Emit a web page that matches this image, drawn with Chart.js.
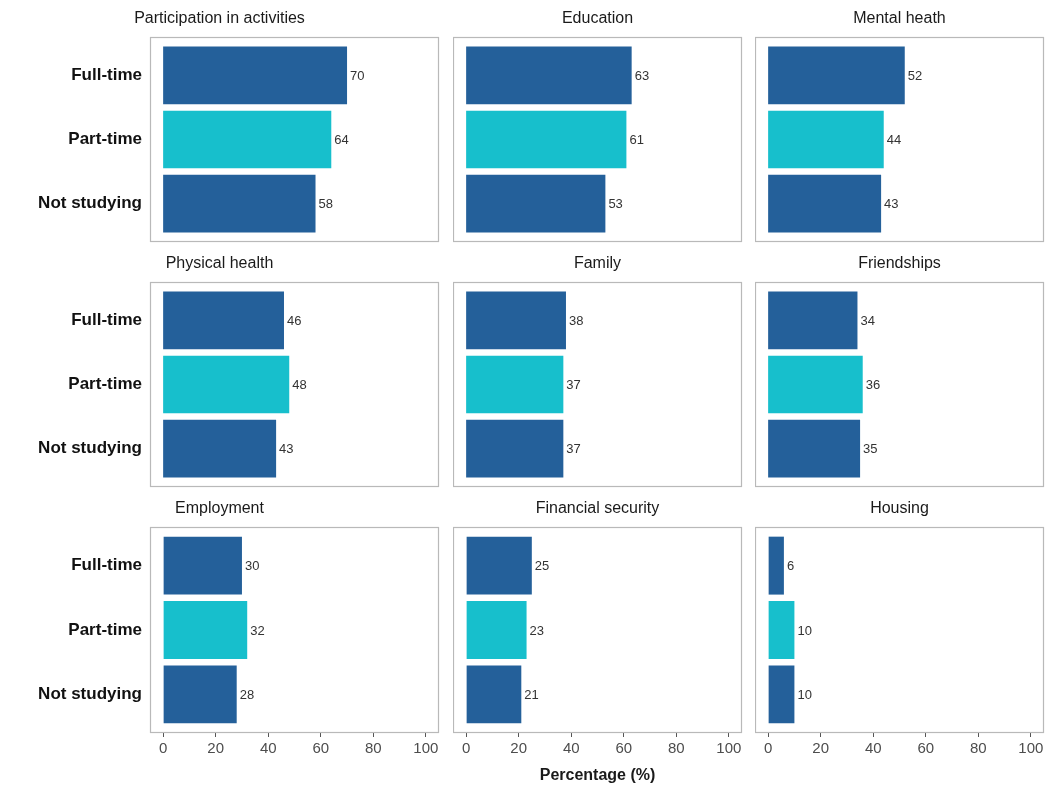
<!DOCTYPE html>
<html>
<head>
<meta charset="utf-8">
<script src="https://cdn.jsdelivr.net/npm/chart.js@4.4.1/dist/chart.umd.min.js"></script>
<style>
  body { margin: 0; background: #fff; }
  #wrap { position: relative; width: 1047px; height: 791px; overflow: hidden; }
  #wrap canvas { position: absolute; }
</style>
</head>
<body>
<div id="wrap"></div>
<script>
// data
const categories = ["Full-time", "Part-time", "Not studying"];
const panelTitles = [
  "Participation in activities", "Education", "Mental heath",
  "Physical health", "Family", "Friendships",
  "Employment", "Financial security", "Housing"
];
const participation = [70, 64, 58];
const education = [63, 61, 53];
const mentalHealth = [52, 44, 43];
const physicalHealth = [46, 48, 43];
const family = [38, 37, 37];
const friendships = [34, 36, 35];
const employment = [30, 32, 28];
const financialSecurity = [25, 23, 21];
const housing = [6, 10, 10];
const panelValues = [
  participation, education, mentalHealth,
  physicalHealth, family, friendships,
  employment, financialSecurity, housing
];
const xTicks = [0, 20, 40, 60, 80, 100];
const xTitle = "Percentage (%)";

const barColors = ["#24609a", "#17bfcc", "#24609a"];
const FONT = "'Liberation Sans', Arial, sans-serif";

// layout of the 3x3 grid
const colLeft = [150, 453, 755];
const rowTop = [37, 282, 527];
const panelW = 289;
const panelH = 206;
const titleH = 37;

const wrap = document.getElementById("wrap");

// grey box round each panel
const panelBorder = {
  id: "panelBorder",
  afterDraw(chart) {
    const a = chart.chartArea;
    const ctx = chart.ctx;
    ctx.save();
    ctx.strokeStyle = "#b9b9b9";
    ctx.lineWidth = 1.2;
    ctx.strokeRect(a.left + 0.5, a.top + 0.5, a.right - a.left - 1, a.bottom - a.top - 1);
    ctx.restore();
  }
};

// value text at the end of each bar
const valueLabels = {
  id: "valueLabels",
  afterDatasetsDraw(chart) {
    const ctx = chart.ctx;
    const ds = chart.data.datasets[0];
    ctx.save();
    ctx.font = "13px " + FONT;
    ctx.fillStyle = "#333";
    ctx.textAlign = "left";
    ctx.textBaseline = "middle";
    chart.getDatasetMeta(0).data.forEach((bar, i) => {
      ctx.fillText(String(ds.data[i].x), bar.x + 3, bar.y + 1);
    });
    ctx.restore();
  }
};

panelValues.forEach((vals, i) => {
  const r = Math.floor(i / 3), c = i % 3;
  const left = c === 0 ? 0 : colLeft[c];
  const width = colLeft[c] + panelW + 1 - left;
  const top = rowTop[r] - titleH;
  const bottom = r === 2 ? 791 : rowTop[r] + panelH + 1;
  const height = bottom - top;

  const cv = document.createElement("canvas");
  cv.width = width;
  cv.height = height;
  cv.style.left = left + "px";
  cv.style.top = top + "px";
  cv.style.width = width + "px";
  cv.style.height = height + "px";
  wrap.appendChild(cv);

  new Chart(cv.getContext("2d"), {
    type: "bar",
    data: {
      datasets: [{
        data: vals.map((v, k) => ({ x: v, y: k })),
        backgroundColor: barColors,
        borderWidth: 0,
        barPercentage: 0.9,
        categoryPercentage: 1
      }]
    },
    options: {
      indexAxis: "y",
      responsive: false,
      animation: false,
      layout: { padding: { left: 0, right: 1, top: 0, bottom: r === 2 ? 0 : 1 } },
      plugins: {
        legend: { display: false },
        tooltip: { enabled: false },
        title: {
          display: true,
          text: panelTitles[i],
          color: "#1a1a1a",
          font: { family: FONT, size: 16, weight: "normal", lineHeight: 1.2 },
          padding: { top: 9, bottom: 8.8 }
        }
      },
      scales: {
        x: {
          type: "linear",
          min: -5,
          max: 105,
          offset: false,
          display: r === 2,
          afterBuildTicks: s => { s.ticks = xTicks.map(v => ({ value: v })); },
          afterFit: s => {
            s.height = height - titleH - panelH;
            s.paddingLeft = 0;
            s.paddingRight = 0;
          },
          grid: { drawOnChartArea: false, drawTicks: true, tickLength: 4, color: "#555", lineWidth: 1 },
          border: { display: false },
          ticks: { color: "#4d4d4d", padding: 3, maxRotation: 0, autoSkip: false, font: { family: FONT, size: 15 } },
          title: {
            display: c === 1,
            text: xTitle,
            color: "#1a1a1a",
            font: { family: FONT, size: 16, weight: "bold", lineHeight: 1.2 },
            padding: { top: 0, bottom: 6 }
          }
        },
        y: {
          type: "linear",
          min: -0.6,
          max: 2.6,
          reverse: true,
          offset: false,
          display: c === 0,
          afterBuildTicks: s => { s.ticks = categories.map((_, k) => ({ value: k })); },
          afterFit: s => {
            if (c === 0) s.width = colLeft[0];
            s.paddingTop = 0;
            s.paddingBottom = 0;
          },
          grid: { display: false, drawTicks: false, offset: false },
          border: { display: false },
          ticks: {
            color: "#111",
            padding: 8,
            font: { family: FONT, size: 17, weight: "bold" },
            callback: v => categories[v]
          }
        }
      }
    },
    plugins: [panelBorder, valueLabels]
  });
});
</script>
</body>
</html>
